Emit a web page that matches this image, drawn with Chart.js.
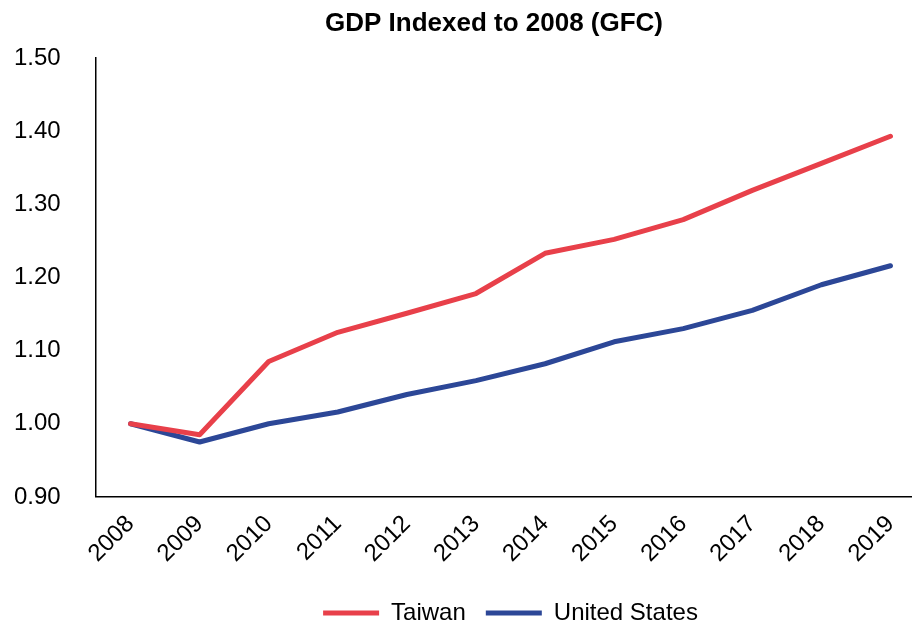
<!DOCTYPE html>
<html>
<head>
<meta charset="utf-8">
<script src="https://cdn.jsdelivr.net/npm/chart.js@4"></script>
<style>
  html, body { margin: 0; padding: 0; background: #fff; overflow: hidden; }
  #wrap { width: 926px; height: 625px; position: relative; }
</style>
</head>
<body>
<div id="wrap"><canvas id="gdpChart"></canvas></div>
<script>
const years = ['2008', '2009', '2010', '2011', '2012', '2013', '2014', '2015', '2016', '2017', '2018', '2019'];
const taiwan = [1.000, 0.985, 1.085, 1.125, 1.151, 1.178, 1.233, 1.252, 1.279, 1.319, 1.356, 1.393];
const unitedStates = [1.000, 0.975, 1.000, 1.016, 1.040, 1.059, 1.082, 1.112, 1.130, 1.155, 1.190, 1.216];
const titleText = 'GDP Indexed to 2008 (GFC)';

const FONT = '"Liberation Sans", Arial, sans-serif';

// title is drawn by hand so it sits where the original has it
const titlePlugin = {
  id: 'manualTitle',
  afterDraw(chart) {
    const ctx = chart.ctx;
    ctx.save();
    ctx.font = 'bold 26px ' + FONT;
    ctx.fillStyle = '#000';
    ctx.textAlign = 'center';
    ctx.textBaseline = 'middle';
    ctx.fillText(titleText, 494, 24);
    ctx.restore();
  }
};

function lineSet(label, data, color) {
  return {
    label: label,
    data: data,
    borderColor: color,
    backgroundColor: color,
    borderWidth: 5,
    borderCapStyle: 'round',
    borderJoinStyle: 'round',
    pointRadius: 0,
    tension: 0
  };
}

new Chart(document.getElementById('gdpChart'), {
  type: 'line',
  data: {
    labels: years,
    datasets: [
      lineSet('Taiwan', taiwan, '#E8404A'),
      lineSet('United States', unitedStates, '#2C4797')
    ]
  },
  options: {
    responsive: true,
    maintainAspectRatio: false,
    animation: false,
    layout: { padding: { top: 58, left: 14, right: 1, bottom: -10 } },
    scales: {
      x: {
        offset: true,
        grid: { display: false, drawTicks: false },
        border: { color: '#000', width: 1.5 },
        ticks: {
          color: '#000',
          font: { family: FONT, size: 24 },
          minRotation: 45,
          maxRotation: 45,
          padding: 13
        }
      },
      y: {
        min: 0.9,
        max: 1.5,
        grid: { display: false, drawTicks: false },
        border: { color: '#000', width: 1.5 },
        afterFit: scale => { scale.width = 82; },
        ticks: {
          stepSize: 0.1,
          color: '#000',
          crossAlign: 'far',
          font: { family: FONT, size: 24 },
          callback: v => v.toFixed(2)
        }
      }
    },
    plugins: {
      title: { display: false },
      tooltip: { enabled: false },
      legend: {
        position: 'bottom',
        fullSize: false,
        labels: {
          usePointStyle: true,
          pointStyle: 'line',
          pointStyleWidth: 56,
          color: '#000',
          font: { family: FONT, size: 24 },
          padding: 20
        }
      }
    }
  },
  plugins: [titlePlugin]
});
</script>
</body>
</html>
